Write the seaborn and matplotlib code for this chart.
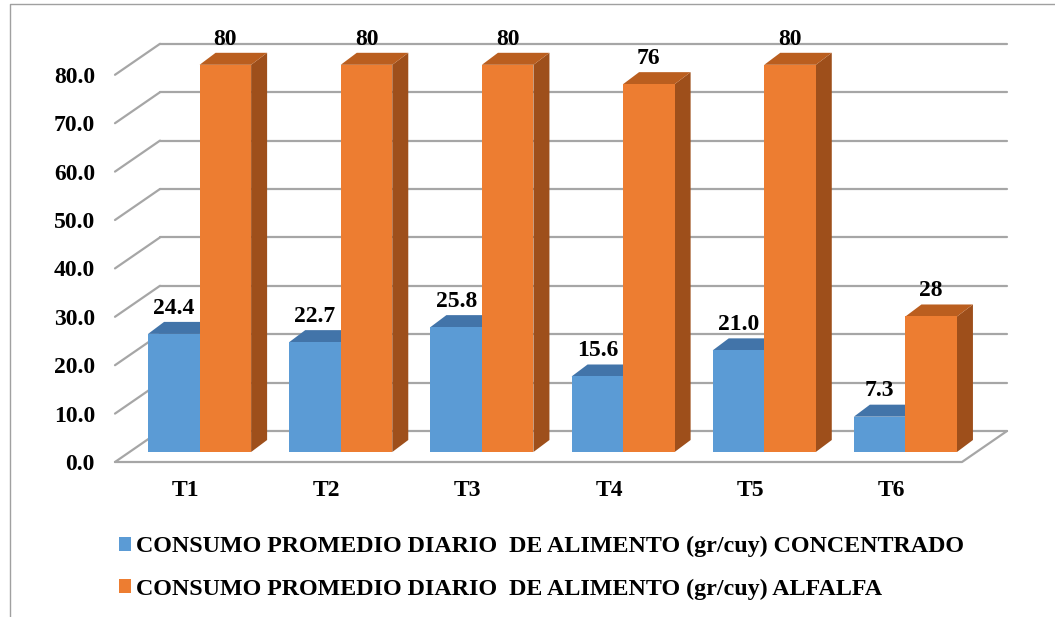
import matplotlib
matplotlib.use("Agg")
import matplotlib.pyplot as plt
import matplotlib.transforms as mtransforms
from matplotlib.patches import Polygon
from matplotlib.lines import Line2D
import seaborn as sns
import pandas as pd

# ---- data -------------------------------------------------------------
tratamientos = ["T1", "T2", "T3", "T4", "T5", "T6"]
concentrado = [24.4, 22.7, 25.8, 15.6, 21.0, 7.3]
alfalfa = [80, 80, 80, 76, 80, 28]
serie_concentrado = "CONSUMO PROMEDIO DIARIO  DE ALIMENTO (gr/cuy) CONCENTRADO"
serie_alfalfa = "CONSUMO PROMEDIO DIARIO  DE ALIMENTO (gr/cuy) ALFALFA"
y_ticks = [0, 10, 20, 30, 40, 50, 60, 70, 80]

# ---- style ------------------------------------------------------------
sns.set_style("white")
plt.rcParams["font.family"] = ["Liberation Serif", "DejaVu Serif"]
plt.rcParams["font.weight"] = "bold"
plt.rcParams["text.color"] = "black"
plt.rcParams["xtick.color"] = "black"
plt.rcParams["ytick.color"] = "black"
FS = 17

BLUE, BLUE_TOP, BLUE_SIDE = "#5B9BD5", "#4274A9", "#335E8A"
ORANGE, ORANGE_TOP, ORANGE_SIDE = "#ED7D31", "#BA5E1F", "#9E4F1B"
GRID = "#A6A6A6"

# pseudo-3D offsets in pixels (display coords, y up)
FRONT = (-14, -10)   # front edge of the floor
BACK = (31, 21)      # back wall
DEPTH = (16, 12)     # depth of every bar

DPI = 100
fig = plt.figure(figsize=(10.55, 6.17), dpi=DPI)
W, H = 1055, 617
ax = fig.add_axes([129 / W, (H - 452) / H, 847 / W, 85 * 4.84 / H])

df = pd.DataFrame({
    "Tratamiento": tratamientos * 2,
    "Consumo": concentrado + alfalfa,
    "Alimento": [serie_concentrado] * len(tratamientos) + [serie_alfalfa] * len(tratamientos),
})
sns.barplot(data=df, x="Tratamiento", y="Consumo", hue="Alimento",
            palette=[BLUE, ORANGE], saturation=1, width=0.73, gap=0,
            errorbar=None, linewidth=0, ax=ax)

ax.set_xlim(-0.5, len(tratamientos) - 0.5)
ax.set_ylim(0, 85)
for s in ax.spines.values():
    s.set_visible(False)
ax.set_xlabel("")
ax.set_ylabel("")
ax.grid(False)
ax.patch.set_visible(False)

ident = mtransforms.IdentityTransform()


def px(x, v, off=(0, 0)):
    p = ax.transData.transform((x, v))
    return (p[0] + off[0], p[1] + off[1])


def shift(p, off):
    return (p[0] + off[0], p[1] + off[1])


def pix_line(xs, ys, **kw):
    ln = Line2D(xs, ys, transform=ident, clip_on=False, **kw)
    ax.add_line(ln)
    return ln


# back wall gridlines, left wall diagonals and floor
x0, x1 = ax.get_xlim()
for v in y_ticks:
    a, b = px(x0, v, BACK), px(x1, v, BACK)
    pix_line([a[0], b[0]], [a[1], b[1]], color=GRID, lw=1.6, zorder=1)
    c = px(x0, v, FRONT)
    pix_line([c[0], a[0]], [c[1], a[1]], color=GRID, lw=1.6, zorder=1)
f0, f1, b1 = px(x0, 0, FRONT), px(x1, 0, FRONT), px(x1, 0, BACK)
pix_line([f0[0], f1[0], b1[0]], [f0[1], f1[1], b1[1]], color=GRID, lw=1.6, zorder=1)

# top and side faces of the bars
bars = [p for p in ax.patches if p.get_height() > 0 and p.get_width() < 1]
for p in bars:
    fc = matplotlib.colors.to_hex(p.get_facecolor())
    is_blue = fc.lower() == BLUE.lower()
    top_c, side_c = (BLUE_TOP, BLUE_SIDE) if is_blue else (ORANGE_TOP, ORANGE_SIDE)
    z = 3 if is_blue else 4
    xl, w, h = p.get_x(), p.get_width(), p.get_height()
    ftl, ftr, fbr = px(xl, h), px(xl + w, h), px(xl + w, 0)
    side = Polygon([fbr, ftr, shift(ftr, DEPTH), shift(fbr, DEPTH)], closed=True,
                   facecolor=side_c, edgecolor="none", transform=ident, zorder=z)
    top = Polygon([ftl, ftr, shift(ftr, DEPTH), shift(ftl, DEPTH)], closed=True,
                  facecolor=top_c, edgecolor="none", transform=ident, zorder=z + 0.1)
    ax.add_patch(side)
    ax.add_patch(top)
    side.set_clip_on(False)
    top.set_clip_on(False)
    p.set_zorder(z + 0.2)
    p.set_clip_on(False)
    label = f"{h:.1f}" if is_blue else f"{h:.0f}"
    ax.annotate(label, (xl + w / 2, h), xytext=(0, 18.5), textcoords="offset points",
                ha="center", va="center", fontsize=FS, fontweight="bold",
                color="black", zorder=6, annotation_clip=False)

# ticks, drawn on the front plane
ax.set_yticks(y_ticks)
ax.set_yticklabels([f"{v:.1f}" for v in y_ticks])
ax.tick_params(axis="y", length=0, pad=14.4, labelsize=FS, labelcolor="black")
ax.tick_params(axis="x", length=0, pad=13.3, labelsize=FS, labelcolor="black")
front_off = mtransforms.ScaledTranslation(FRONT[0] / DPI, FRONT[1] / DPI, fig.dpi_scale_trans)
for lab in ax.get_yticklabels() + ax.get_xticklabels():
    lab.set_transform(lab.get_transform() + front_off)
    lab.set_fontweight("bold")

# legend below the chart
handles, labels = ax.get_legend_handles_labels()
if ax.get_legend() is not None:
    ax.get_legend().remove()
leg = fig.legend(handles, labels, loc="upper left", bbox_to_anchor=(119 / W, 1 - 536 / H),
                 frameon=False, prop={"family": "Liberation Serif", "weight": "bold", "size": 17.3},
                 handlelength=0.5, handleheight=0.5, handletextpad=0.2, labelspacing=0.88,
                 borderpad=0, borderaxespad=0)
for t in leg.get_texts():
    t.set_color("black")

# outer frame
fig.add_artist(Line2D([10, 10, W], [0, H - 4, H - 4], color="#A0A0A0", lw=1.0,
                      transform=ident, zorder=0))

fig.savefig("out.png", dpi=DPI)
